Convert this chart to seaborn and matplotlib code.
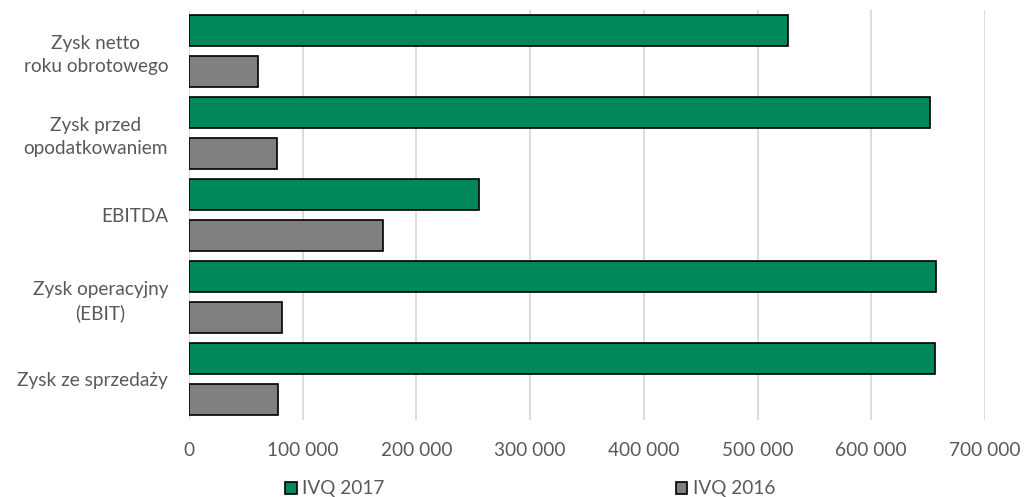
import matplotlib
matplotlib.use("Agg")
import matplotlib.pyplot as plt
import matplotlib.ticker as mticker
from matplotlib.patches import Patch
import seaborn as sns
import pandas as pd

categories = ["Zysk netto\nroku obrotowego", "Zysk przed\nopodatkowaniem", "EBITDA",
              "Zysk operacyjny\n(EBIT)", "Zysk ze sprzedaży"]
series_names = ["IVQ 2017", "IVQ 2016"]
ivq2017 = [527000, 652000, 255000, 657000, 656000]
ivq2016 = [61000, 77000, 171000, 82000, 78000]
x_ticks = [0, 100000, 200000, 300000, 400000, 500000, 600000, 700000]

colors = ["#00885A", "#808080"]
text_color = "#595959"
grid_color = "#D9D9D9"

df = pd.DataFrame({
    "kategoria": categories * 2,
    "wartosc": ivq2017 + ivq2016,
    "okres": [series_names[0]] * len(categories) + [series_names[1]] * len(categories),
})

sns.set_theme(style="white")
plt.rcParams["font.family"] = ["Lato", "DejaVu Sans"]

fig = plt.figure(figsize=(10.24, 4.97), dpi=100)
ax = fig.add_axes([189 / 1024, 1 - 420 / 497, (985 - 189) / 1024, (420 - 10) / 497])

sns.barplot(data=df, y="kategoria", x="wartosc", hue="okres", hue_order=series_names,
            order=categories, orient="h", palette=colors, saturation=1, width=1.0, gap=0.22,
            edgecolor="black", linewidth=1.2, ax=ax, legend=False, zorder=3)

ax.set_xlim(0, 700000)
ax.set_ylim(len(categories) - 0.5, -0.5)
ax.set_xticks(x_ticks)
ax.xaxis.set_major_formatter(mticker.FuncFormatter(
    lambda v, p: f"{int(v):,}".replace(",", " ")))
ax.grid(axis="x", color=grid_color, linewidth=1.3, zorder=0)
ax.grid(axis="y", visible=False)
for s in ["top", "right", "bottom", "left"]:
    ax.spines[s].set_visible(False)
ax.set_xlabel("")
ax.set_ylabel("")
ax.tick_params(axis="x", length=0, pad=16, labelsize=13.7, labelcolor=text_color)
ax.tick_params(axis="y", length=0, pad=15, labelsize=13.7, labelcolor=text_color)
for lab in ax.get_yticklabels():
    lab.set_multialignment("center")
    lab.set_linespacing(1.4)

handles = [Patch(facecolor=c, edgecolor="black", linewidth=1.2) for c in colors]
fig.legend(handles, series_names, loc="lower center", bbox_to_anchor=(0.518, -0.035),
           ncol=2, frameon=False, fontsize=13.7, labelcolor=text_color,
           handlelength=0.6, handleheight=0.6, handletextpad=0.3, columnspacing=15.3)

fig.savefig("out.png", dpi=100)
